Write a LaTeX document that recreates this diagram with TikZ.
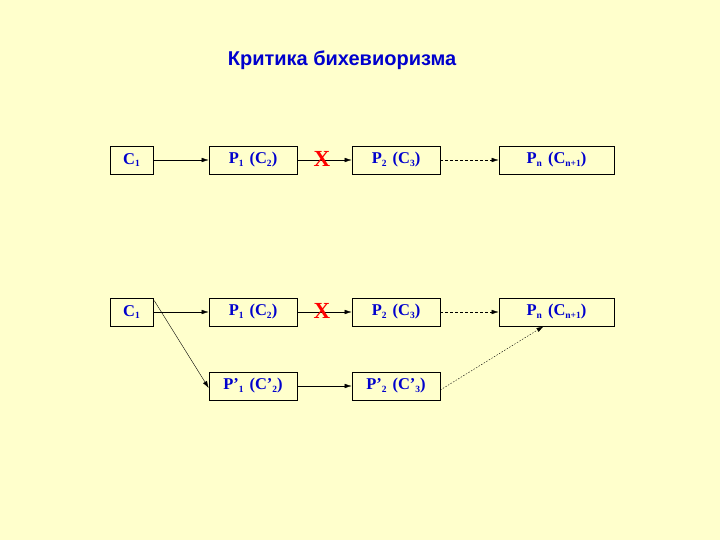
\documentclass[tikz,border=0pt]{standalone}
\usepackage{fontspec}
\setmainfont{Liberation Serif}
\newfontfamily\titlefont{Liberation Sans}
\usetikzlibrary{arrows.meta}
\definecolor{bg}{RGB}{255,255,204}
\definecolor{txtblue}{RGB}{0,0,204}
\tikzset{
  box/.style={draw=black, line width=0.6pt, fill=bg, minimum height=28pt, inner sep=0pt,
    font=\fontsize{16.5}{18}\selectfont\bfseries, text=txtblue},
  conn/.style={line width=0.5pt, -{Latex[length=7pt,width=4.5pt]}},
  dconn/.style={conn, dash pattern=on 3pt off 2pt},
  fconn/.style={conn, dash pattern=on 1.5pt off 1.5pt, line width=0.4pt},
  cross/.style={text=red, font=\fontsize{23}{23}\selectfont\bfseries}
}
\newcommand{\sbs}[1]{\raisebox{-2.5pt}{\fontsize{9.5}{9.5}\selectfont #1}}
\newcommand{\gap}{\hspace{6pt}}
\begin{document}
\begin{tikzpicture}[x=1pt,y=-1pt]
\fill[bg] (0,0) rectangle (720,540);
\useasboundingbox (0,0) rectangle (720,540);
\node[text=txtblue, font=\titlefont\fontsize{20}{22}\selectfont\bfseries] (title) at (342,60) {Критика бихевиоризма};
% top row
\node[box, minimum width=43pt] (a1) at (131.5,160) {C\sbs{1}};
\node[box, minimum width=88pt] (b1) at (253,160) {P\sbs{1}\gap(C\sbs{2})};
\node[box, minimum width=88pt] (c1) at (396,160) {P\sbs{2}\gap(C\sbs{3})};
\node[box, minimum width=115pt] (d1) at (556.5,160) {P\sbs{n}\gap(C\sbs{n+1})};
\draw[conn] (a1) -- (b1);
\draw[conn] (b1) -- (c1);
\node[cross] (x1) at (322,159) {X};
\draw[dconn] (c1) -- (d1);
% bottom row
\node[box, minimum width=43pt] (a2) at (131.5,312) {C\sbs{1}};
\node[box, minimum width=88pt] (b2) at (253,312) {P\sbs{1}\gap(C\sbs{2})};
\node[box, minimum width=88pt] (c2) at (396,312) {P\sbs{2}\gap(C\sbs{3})};
\node[box, minimum width=115pt] (d2) at (556.5,312) {P\sbs{n}\gap(C\sbs{n+1})};
\node[box, minimum width=88pt] (e2) at (253,386) {P’\sbs{1}\gap(C’\sbs{2})};
\node[box, minimum width=88pt] (f2) at (396,386) {P’\sbs{2}\gap(C’\sbs{3})};
\draw[conn] (a2) -- (b2);
\draw[conn] (b2) -- (c2);
\node[cross] (x2) at (322,311) {X};
\draw[dconn] (c2) -- (d2);
\draw[conn, line width=0.4pt] ([xshift=1pt,yshift=-3pt]a2.north east) -- ([yshift=-2pt]e2.west);
\draw[conn] (e2) -- (f2);
\draw[fconn] ([yshift=-4pt]f2.east) -- ([xshift=-13pt]d2.south);
\end{tikzpicture}
\end{document}
